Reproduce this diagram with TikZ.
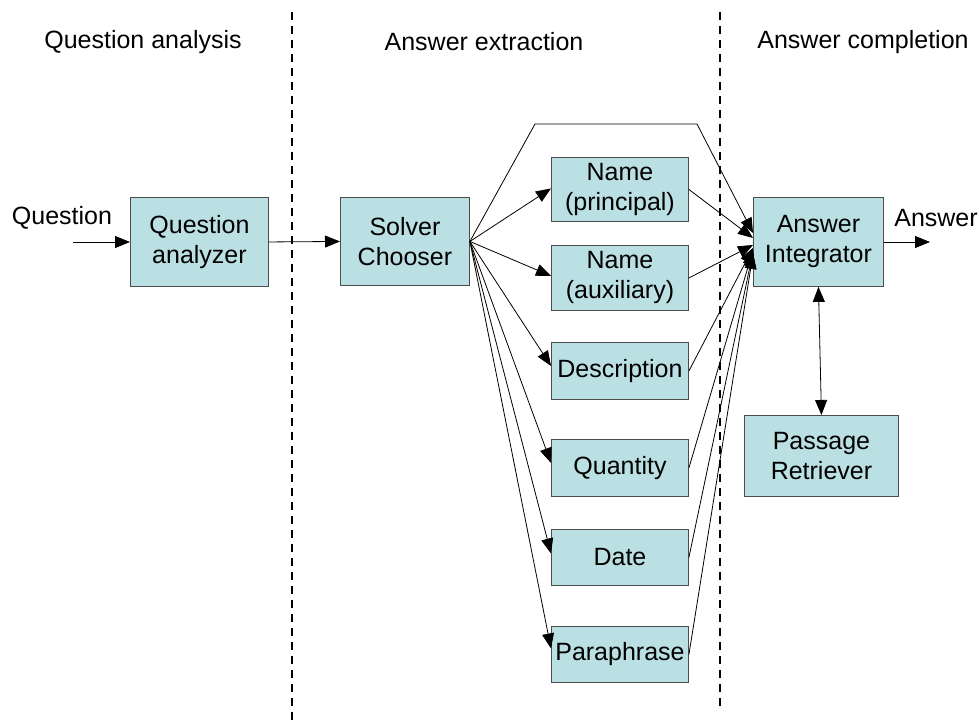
\documentclass[tikz,border=0pt]{standalone}
\usepackage{fontspec}
\setmainfont{Liberation Sans}
\usetikzlibrary{arrows.meta,calc}
\begin{document}
\begin{tikzpicture}[x=1pt,y=-1pt,
  font=\fontsize{25}{30}\selectfont,
  box/.style={draw=black!70, line width=0.9pt, fill=boxfill, inner sep=0pt,
    align=center, anchor=north west},
  conn/.style={line width=0.8pt, -{Triangle[length=15pt,width=12pt]}},
  divider/.style={line width=1.3pt, dash pattern=on 8pt off 6pt},
  heading/.style={inner sep=0pt}]
\definecolor{boxfill}{RGB}{187,224,227}
\useasboundingbox (0,0) rectangle (979,721);

% phase dividers
\coordinate (d1t) at (292,12);
\coordinate (d1b) at (292,721);
\coordinate (d2t) at (720,12);
\coordinate (d2b) at (720,708);
\draw[divider] (d1t) -- (d1b);
\draw[divider] (d2t) -- (d2b);

% phase headings
\node[heading] (h1) at (143,42) {Question analysis};
\node[heading] (h2) at (484,42) {Answer extraction};
\node[heading] (h3) at (863,42) {Answer completion};

% boxes
\node[box, minimum width=138pt, minimum height=89pt] (qa) at (130,197) {Question\\analyzer};
\node[box, minimum width=129pt, minimum height=88pt] (sc) at (340,197) {Solver\\Chooser};
\node[box, minimum width=137pt, minimum height=64pt] (np) at (551,157) {Name\\(principal)};
\node[box, minimum width=137pt, minimum height=65pt] (na) at (551,245) {Name\\(auxiliary)};
\node[box, minimum width=137pt, minimum height=57pt] (de) at (551,342) {Description};
\node[box, minimum width=137pt, minimum height=57pt] (qu) at (551,439) {Quantity};
\node[box, minimum width=137pt, minimum height=56pt] (da) at (551,529) {Date};
\node[box, minimum width=137pt, minimum height=56pt] (pa) at (551,626) {Paraphrase};
\node[box, minimum width=130pt, minimum height=89pt] (ai) at (753,197) {Answer\\Integrator};
\node[box, minimum width=154pt, minimum height=81pt] (pr) at (744,415) {Passage\\Retriever};

% input and output
\node[heading] (qin) at (62,218) {Question};
\node[heading] (aout) at (936,218) {Answer};
\coordinate (qstart) at (73,242);
\coordinate (aend) at (930,242);
\draw[conn] (qstart) -- (qa.west |- qstart);
\draw[conn] (ai.east |- aend) -- (aend);
\draw[conn] (qa.east) -- (sc.west);

% solver chooser to the solvers
\draw[conn] (sc.east) -- ($(np.west)+(0,-1)$);
\draw[conn] (sc.east) -- ($(na.west)+(0,-2)$);
\draw[conn] (sc.east) -- ($(de.west)+(0,-5)$);
\draw[conn] (sc.east) -- ($(qu.west)+(0,-5)$);
\draw[conn] (sc.east) -- ($(da.west)+(0,-4)$);
\draw[conn] (sc.east) -- ($(pa.west)+(0,-6)$);

% direct path over the top
\coordinate (tl) at (535,124);
\coordinate (tr) at (697,124);
\draw[conn] (sc.east) -- (tl) -- (tr) -- ($(ai.west)+(0,-9)$);

% solvers to the integrator
\draw[conn] (np.east) -- ($(ai.west)+(0,-4)$);
\draw[conn] (na.east) -- ($(ai.west)+(0,3)$);
\draw[conn] (de.east) -- ($(ai.west)+(0,6)$);
\draw[conn] (qu.east) -- ($(ai.west)+(0,8)$);
\draw[conn] (da.east) -- ($(ai.west)+(0,10)$);
\draw[conn] (pa.east) -- ($(ai.west)+(0,12)$);

% integrator and retriever
\draw[line width=0.8pt, {Triangle[length=15pt,width=12pt]}-{Triangle[length=15pt,width=12pt]}] (ai.south) -- (pr.north);
\end{tikzpicture}
\end{document}
